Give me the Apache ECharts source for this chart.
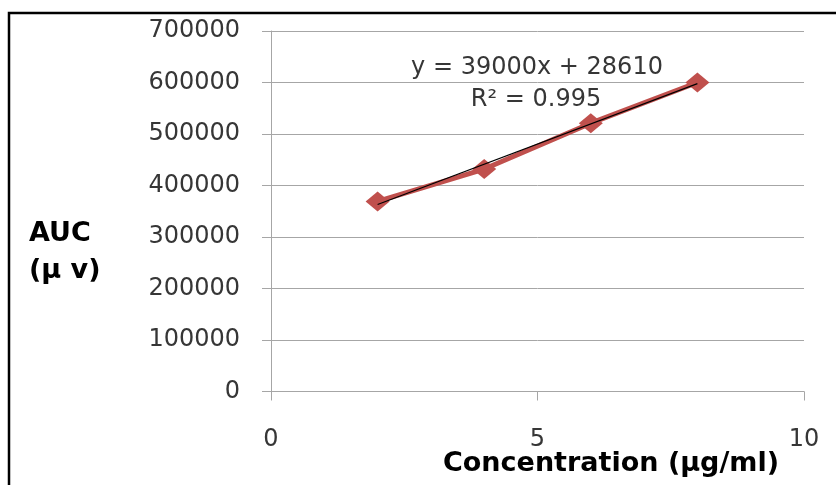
<!DOCTYPE html>
<html>
<head>
<meta charset="utf-8">
<script src="https://cdn.jsdelivr.net/npm/echarts@6/dist/echarts.min.js"></script>
<style>
  html, body { margin: 0; padding: 0; background: #fff; }
  #chart { width: 836px; height: 485px; }
</style>
</head>
<body>
<div id="chart"></div>
<script>
// Calibration data: concentration (µg/ml) vs. peak area (µV)
const concentrations = [2, 4, 6, 8];
const aucValues = [369000, 432000, 521000, 600000];

// Axis ticks
const xTicks = [0, 5, 10];
const yTicks = [0, 100000, 200000, 300000, 400000, 500000, 600000, 700000];

// Trendline annotation text
const equationText = 'y = 39000x + 28610';
const r2Text = 'R\u00B2 = 0.995';

// Least-squares fit of the measured points for the trendline
const n = concentrations.length;
const mx = concentrations.reduce((a, b) => a + b, 0) / n;
const my = aucValues.reduce((a, b) => a + b, 0) / n;
let sxy = 0, sxx = 0;
for (let i = 0; i < n; i++) {
  sxy += (concentrations[i] - mx) * (aucValues[i] - my);
  sxx += (concentrations[i] - mx) ** 2;
}
const slope = sxy / sxx;
const intercept = my - slope * mx;
const xFirst = concentrations[0];
const xLast = concentrations[n - 1];
const trendData = [
  [xFirst, slope * xFirst + intercept],
  [xLast, slope * xLast + intercept]
];

const measured = concentrations.map((c, i) => [c, aucValues[i]]);

const tickColor = '#363636';
const gridColor = '#a6a6a6';
const font = 'DejaVu Sans';

const chart = echarts.init(document.getElementById('chart'), null, { renderer: 'canvas' });
chart.setOption({
  animation: false,
  backgroundColor: '#ffffff',
  grid: { left: 271, right: 32, top: 31, bottom: 93.5, containLabel: false },
  xAxis: {
    type: 'value',
    min: xTicks[0],
    max: xTicks[xTicks.length - 1],
    interval: xTicks[1] - xTicks[0],
    axisLine: { show: true, lineStyle: { color: gridColor, width: 1 } },
    axisTick: { show: true, inside: false, length: 9, lineStyle: { color: gridColor } },
    splitLine: { show: false },
    axisLabel: {
      color: tickColor, fontFamily: font, fontSize: 24, margin: 36,
      formatter: v => String(v)
    }
  },
  yAxis: {
    type: 'value',
    min: yTicks[0],
    max: yTicks[yTicks.length - 1],
    interval: yTicks[1] - yTicks[0],
    axisLine: { show: true, lineStyle: { color: gridColor, width: 1 } },
    axisTick: { show: true, inside: false, length: 9, lineStyle: { color: gridColor } },
    splitLine: { show: true, lineStyle: { color: gridColor, width: 1 } },
    axisLabel: {
      color: tickColor, fontFamily: font, fontSize: 24, margin: 31,
      formatter: v => String(v)
    }
  },
  series: [
    {
      name: 'AUC',
      type: 'line',
      data: measured,
      lineStyle: { color: '#c0504d', width: 5 },
      itemStyle: { color: '#c0504d' },
      symbol: 'diamond',
      symbolSize: [24, 20],
      showAllSymbol: true,
      z: 2
    },
    {
      name: 'Linear fit',
      type: 'line',
      data: trendData,
      symbol: 'none',
      lineStyle: { color: '#000000', width: 1.2 },
      z: 3
    }
  ],
  graphic: [
    {
      type: 'rect',
      shape: { x: 9, y: 13, width: 1200, height: 800 },
      style: { fill: 'none', stroke: '#000', lineWidth: 2.5 },
      silent: true
    },
    {
      type: 'text',
      style: {
        text: equationText, x: 537, y: 68, align: 'center', verticalAlign: 'middle',
        fill: tickColor, font: '24px "DejaVu Sans"'
      }
    },
    {
      type: 'text',
      style: {
        text: r2Text, x: 536, y: 100, align: 'center', verticalAlign: 'middle',
        fill: tickColor, font: '24px "DejaVu Sans"'
      }
    },
    {
      type: 'text',
      style: {
        text: 'AUC', x: 29, y: 234, align: 'left', verticalAlign: 'middle',
        fill: '#000', font: 'bold 27px "DejaVu Sans"'
      }
    },
    {
      type: 'text',
      style: {
        text: '(\u00B5 v)', x: 29, y: 271, align: 'left', verticalAlign: 'middle',
        fill: '#000', font: 'bold 27px "DejaVu Sans"'
      }
    },
    {
      type: 'text',
      style: {
        text: 'Concentration (\u00B5g/ml)', x: 611, y: 464, align: 'center', verticalAlign: 'middle',
        fill: '#000', font: 'bold 27px "DejaVu Sans"'
      }
    }
  ]
});
</script>
</body>
</html>
